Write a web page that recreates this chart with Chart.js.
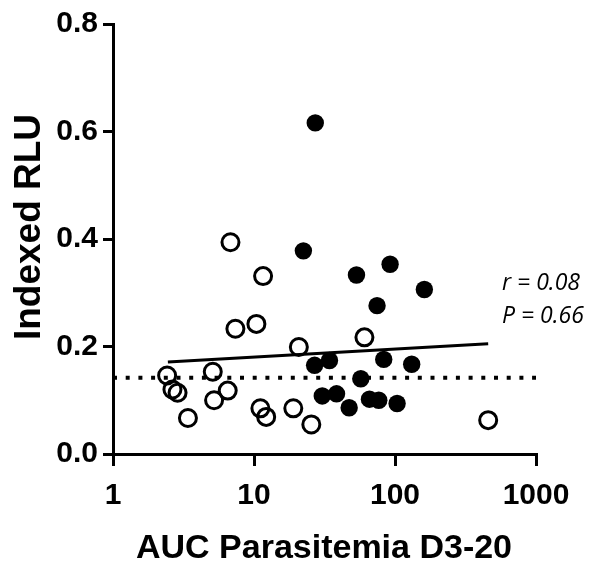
<!DOCTYPE html>
<html>
<head>
<meta charset="utf-8">
<script src="https://cdn.jsdelivr.net/npm/chart.js@4.4.1/dist/chart.umd.min.js"></script>
<style>
  body { margin: 0; background: #fff; }
  #wrap { width: 591px; height: 572px; }
</style>
</head>
<body>
<div id="wrap"><canvas id="chart" width="591" height="572"></canvas></div>
<script>
// open circles
const openX = [6.81, 11.6, 7.38, 10.4, 20.8, 60.7, 2.42, 5.10, 2.64, 2.87, 6.51, 5.21, 3.40, 11.1, 12.2, 19.0, 25.5, 458];
const openY = [0.394, 0.331, 0.233, 0.242, 0.199, 0.217, 0.146, 0.153, 0.120, 0.114, 0.118, 0.100, 0.067, 0.085, 0.069, 0.085, 0.055, 0.063];
// filled circles
const filledX = [27.2, 22.4, 53.3, 92.3, 74.6, 161.5, 26.9, 34.3, 83.2, 131.3, 57.2, 30.5, 38.5, 47.3, 65.9, 76.7, 103.5];
const filledY = [0.616, 0.378, 0.333, 0.353, 0.276, 0.306, 0.165, 0.174, 0.176, 0.167, 0.140, 0.108, 0.112, 0.086, 0.102, 0.100, 0.094];
// regression line and dotted reference line
const fitX = [2.45, 458];
const fitY = [0.171, 0.205];
const refX = [1, 1000];
const refY = [0.142, 0.142];

const xTicks = [1, 10, 100, 1000];
const xLabel = 'AUC Parasitemia D3-20';
const yLabel = 'Indexed RLU';
const statsText = ['r = 0.08', 'P = 0.66'];

function pts(xs, ys) {
  return xs.map((x, i) => ({ x: x, y: ys[i] }));
}

// axis titles and r/P note
const textPlugin = {
  id: 'texts',
  afterDraw(chart) {
    const ctx = chart.ctx;
    ctx.save();
    ctx.fillStyle = '#000';
    ctx.textAlign = 'center';
    ctx.textBaseline = 'middle';
    ctx.font = 'bold 34px "Liberation Sans", Arial, sans-serif';
    ctx.fillText(xLabel, 324, 549);
    ctx.save();
    ctx.translate(30, 227);
    ctx.rotate(-Math.PI / 2);
    ctx.font = 'bold 37px "Liberation Sans", Arial, sans-serif';
    ctx.fillText(yLabel, 0, 0);
    ctx.restore();
    ctx.textAlign = 'left';
    ctx.font = 'italic 23px "Open Sans", sans-serif';
    ctx.fillText(statsText[0], 502, 283);
    ctx.fillText(statsText[1], 502, 316);
    ctx.restore();
  }
};

const ctx = document.getElementById('chart').getContext('2d');
new Chart(ctx, {
  type: 'scatter',
  data: {
    datasets: [
      {
        data: pts(refX, refY),
        showLine: true,
        borderColor: '#000',
        borderWidth: 4,
        borderDash: [4, 8.7],
        pointRadius: 0,
        order: 4
      },
      {
        data: pts(fitX, fitY),
        showLine: true,
        borderColor: '#000',
        borderWidth: 3,
        pointRadius: 0,
        order: 3
      },
      {
        data: pts(openX, openY),
        pointRadius: 8.5,
        pointBorderWidth: 3,
        pointBorderColor: '#000',
        pointBackgroundColor: 'rgba(0,0,0,0)',
        order: 2
      },
      {
        data: pts(filledX, filledY),
        pointRadius: 8.7,
        pointBorderWidth: 0,
        pointBackgroundColor: '#000',
        order: 1
      }
    ]
  },
  options: {
    responsive: false,
    animation: false,
    layout: { padding: { left: 0, top: 24, right: 55, bottom: 0 } },
    plugins: { legend: { display: false }, tooltip: { enabled: false } },
    scales: {
      x: {
        type: 'logarithmic',
        min: 1,
        max: 1000,
        afterFit: s => { s.height = 118; },
        afterBuildTicks: s => { s.ticks = xTicks.map(v => ({ value: v })); },
        grid: { drawOnChartArea: false, drawTicks: true, tickLength: 12, lineWidth: 3, color: '#000' },
        border: { display: true, width: 3, color: '#000' },
        ticks: {
          color: '#000',
          padding: 12,
          maxRotation: 0,
          font: { family: '"Liberation Sans", Arial, sans-serif', size: 30, weight: 'bold' },
          callback: v => String(v)
        }
      },
      y: {
        min: 0,
        max: 0.8,
        afterFit: s => { s.width = 113; },
        grid: { drawOnChartArea: false, drawTicks: true, tickLength: 10, lineWidth: 3, color: '#000' },
        border: { display: true, width: 3, color: '#000' },
        ticks: {
          stepSize: 0.2,
          color: '#000',
          padding: 5,
          font: { family: '"Liberation Sans", Arial, sans-serif', size: 30, weight: 'bold' },
          callback: v => v.toFixed(1)
        }
      }
    }
  },
  plugins: [textPlugin]
});
</script>
</body>
</html>
